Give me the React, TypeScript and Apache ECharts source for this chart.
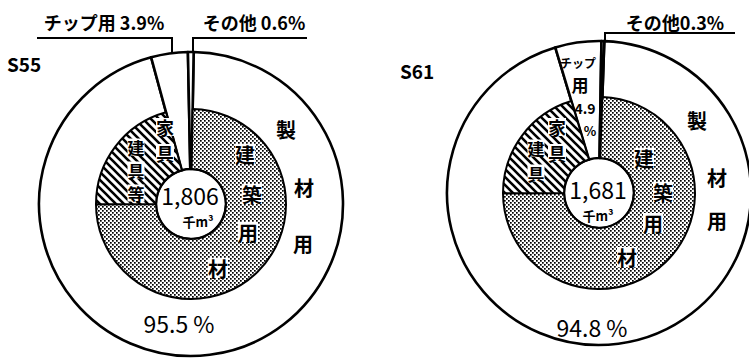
import React, { useEffect, useRef } from "react";
import * as echarts from "echarts";

// ---- data ----
const years = ["S55", "S61"];
const outerCategories = ["製材用", "チップ用", "その他"];
const s55Outer = [95.5, 3.9, 0.6];
const s61Outer = [94.8, 4.9, 0.3];
const innerCategories = ["建築用材", "家具建具等"];
const s55Inner = [74.7, 20.8];
const s61Inner = [74.4, 20.4];
const totals = ["1,806", "1,681"];
const unitLabel = "千m³";

const FONT = '"Noto Sans CJK JP", "Noto Sans", sans-serif';

const dotSvg =
  "data:image/svg+xml;utf8," +
  encodeURIComponent(
    '<svg xmlns="http://www.w3.org/2000/svg" width="4" height="4"><rect width="4" height="4" fill="#fff"/><rect x="0" y="0" width="1.7" height="1.7" fill="#000"/><rect x="2" y="2" width="1.7" height="1.7" fill="#000"/></svg>'
  );
const hatchSvg =
  "data:image/svg+xml;utf8," +
  encodeURIComponent(
    '<svg xmlns="http://www.w3.org/2000/svg" width="8" height="8"><rect width="8" height="8" fill="#fff"/><path d="M-1,-1 L9,9 M-1,7 L1,9 M7,-1 L9,1" stroke="#000" stroke-width="2.6"/></svg>'
  );

const dotPattern: any = { image: dotSvg, repeat: "repeat", imageWidth: 4, imageHeight: 4 };
const hatchPattern: any = { image: hatchSvg, repeat: "repeat", imageWidth: 8, imageHeight: 8 };

function makePies(
  center: number[],
  rOuter: number,
  rMid: number,
  rHole: number,
  outerVals: number[],
  innerVals: number[],
  startAngle: number
) {
  const common = {
    type: "pie",
    center,
    startAngle,
    clockwise: true,
    silent: true,
    avoidLabelOverlap: false,
    label: { show: false },
    labelLine: { show: false },
    emphasis: { disabled: true },
  };
  const outer = {
    ...common,
    radius: [rHole, rOuter],
    z: 1,
    itemStyle: { color: "#fff", borderColor: "#000", borderWidth: 2.6, borderJoin: "round" },
    data: outerCategories.map((n, i) => ({ name: n, value: outerVals[i] })),
  };
  const inner = {
    ...common,
    radius: [rHole, rMid],
    z: 2,
    itemStyle: { borderColor: "#000", borderWidth: 2, borderJoin: "round" },
    data: [
      { name: innerCategories[0], value: innerVals[0], itemStyle: { color: dotPattern } },
      { name: innerCategories[1], value: innerVals[1], itemStyle: { color: hatchPattern } },
      {
        name: "spacer",
        value: outerVals[1] + outerVals[2],
        itemStyle: { color: "rgba(0,0,0,0)", borderWidth: 0 },
      },
    ],
  };
  return [outer, inner];
}

function txt(text: string, x: number, y: number, size: number, extra: any = {}) {
  return {
    type: "text",
    z: 100,
    style: {
      text,
      x,
      y,
      fill: "#000",
      font: `${extra.weight || "bold"} ${size}px ${FONT}`,
      lineHeight: size,
      align: extra.align || "center",
      verticalAlign: "middle",
      textAlign: extra.align || "center",
      textVerticalAlign: "middle",
      backgroundColor: extra.bg,
      padding: 0,
    },
  };
}

function column(chars: string, x: number, ys: number[], size: number, bg?: string) {
  return chars.split("").map((c, i) => txt(c, x, ys[i], size, { bg }));
}

export default function App() {
  const ref = useRef<HTMLDivElement>(null);
  useEffect(() => {
    if (!ref.current) return;
    const chart = echarts.init(ref.current, undefined, { renderer: "svg" });
    const line = (pts: number[][], w = 2) => ({
      type: "polyline",
      z: 50,
      shape: { points: pts },
      style: { stroke: "#000", lineWidth: w, fill: "none" },
    });
    const graphics: any[] = [
      // left chart
      txt(years[0], 7, 63, 19, { align: "left" }),
      txt(`${outerCategories[1]} ${s55Outer[1]}%`, 104, 22, 18),
      txt(`${outerCategories[2]} ${s55Outer[2]}%`, 254, 22, 18),
      line([[37, 38], [172, 38], [172, 52]]),
      line([[307, 38], [193, 38], [193, 52]]),
      txt("製", 286, 129, 20),
      txt("材", 304, 187, 20),
      txt("用", 303, 243, 20),
      txt("建", 245, 154, 20, { bg: "#fff" }),
      txt("築", 252, 194, 20, { bg: "#fff" }),
      txt("用", 248, 232, 20, { bg: "#fff" }),
      txt("材", 218, 268, 20, { bg: "#fff" }),
      ...column("家具", 165, [127, 153], 18, "#fff"),
      ...column("建具等", 136, [147, 170, 193], 17, "#fff"),
      txt(totals[0], 190, 195, 23, { weight: "normal" }),
      txt(unitLabel, 198, 221, 13),
      txt(`${s55Outer[0]} %`, 179, 323, 23, { weight: "normal" }),
      // right chart
      txt(years[1], 400, 70, 19, { align: "left" }),
      txt(`${outerCategories[2]}${s61Outer[2]}%`, 675, 22, 18),
      line([[735, 33], [605, 33], [605, 40]]),
      txt("チップ", 578, 62, 12),
      txt("用", 580, 84, 17),
      txt(`${s61Outer[1]}`, 585, 108, 14),
      txt("%", 590, 130, 13),
      txt("製", 697, 120, 20),
      txt("材", 717, 177, 20),
      txt("用", 717, 220, 20),
      txt("建", 644, 158, 20, { bg: "#fff" }),
      txt("築", 663, 192, 20, { bg: "#fff" }),
      txt("用", 653, 223, 20, { bg: "#fff" }),
      txt("材", 627, 257, 20, { bg: "#fff" }),
      ...column("家具", 557, [127, 153], 18, "#fff"),
      ...column("建具", 536, [148, 173], 17, "#fff"),
      txt(totals[1], 598, 189, 23, { weight: "normal" }),
      txt(unitLabel, 598, 215, 13),
      txt(`${s61Outer[0]} %`, 592, 327, 23, { weight: "normal" }),
    ];
    chart.setOption({
      animation: false,
      backgroundColor: "#fff",
      series: [
        ...makePies([191, 204], 152, 95, 35, s55Outer, s55Inner, 89),
        ...makePies([599, 193], 152, 96, 35, s61Outer, s61Inner, 88),
      ],
      graphic: { elements: graphics },
    });
    return () => chart.dispose();
  }, []);
  return (
    <div
      ref={ref}
      style={{ position: "fixed", left: 0, top: 0, width: 749, height: 359, background: "#fff" }}
    />
  );
}
